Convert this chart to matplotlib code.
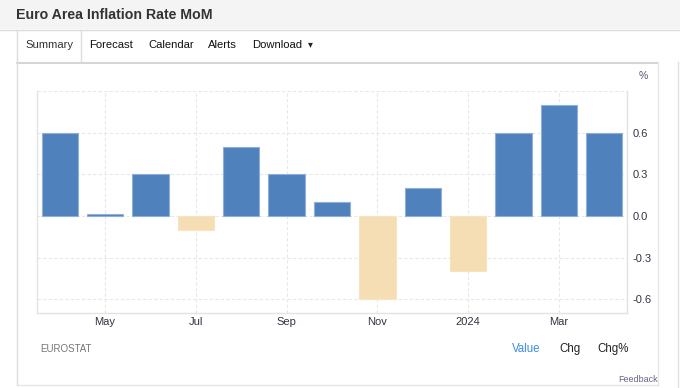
import matplotlib
matplotlib.use("Agg")
import matplotlib.pyplot as plt
from matplotlib.patches import Rectangle
from matplotlib.lines import Line2D

plt.rcParams['font.family'] = ['Liberation Sans', 'DejaVu Sans']

months = ["Apr", "May", "Jun", "Jul", "Aug", "Sep", "Oct", "Nov", "Dec",
          "Jan", "Feb", "Mar", "Apr"]
values = [0.6, 0.015, 0.3, -0.1, 0.5, 0.3, 0.1, -0.6, 0.2, -0.4, 0.6, 0.8, 0.6]
xtick_pos = [1, 3, 5, 7, 9, 11]
xtick_labels = ["May", "Jul", "Sep", "Nov", "2024", "Mar"]
yticks = [-0.6, -0.3, 0.0, 0.3, 0.6]
ytick_labels = ["-0.6", "-0.3", "0.0", "0.3", "0.6"]

W, H = 680, 388
fig = plt.figure(figsize=(W / 100, H / 100), dpi=100)
fig.patch.set_facecolor("white")

def px(x, y):
    return x / W, 1 - y / H

# header band
fig.patches.append(Rectangle((0, 1 - 29 / H), 1, 29 / H, transform=fig.transFigure,
                             facecolor="#f4f4f4", edgecolor="none", zorder=0))
def hline(y, x0, x1, c="#dddddd", lw=1.0):
    fig.lines.append(Line2D([x0 / W, x1 / W], [1 - y / H, 1 - y / H], transform=fig.transFigure,
                            color=c, lw=lw, zorder=1))
def vline(x, y0, y1, c="#dddddd", lw=1.0):
    fig.lines.append(Line2D([x / W, x / W], [1 - y0 / H, 1 - y1 / H], transform=fig.transFigure,
                            color=c, lw=lw, zorder=1))

hline(29.5, 0, 680, "#dcdcdc")
hline(62.5, 17, 658, "#d6d6d6", 1.5)
vline(17, 29.5, 385)
vline(81, 29.5, 62)
vline(658, 62, 385, "#e6e6e6")
hline(385, 17, 658, "#e6e6e6")
vline(678, 62, 388, "#e0e0e0")

fig.text(*px(16, 15), "Euro Area Inflation Rate MoM", fontsize=10.2, fontweight="bold",
         color="#333333", va="center", ha="left")
nav = [("Summary", 25, "#333333"), ("Forecast", 89, "#111111"), ("Calendar", 148, "#111111"),
       ("Alerts", 208, "#111111"), ("Download", 252, "#111111")]
for t, x, c in nav:
    fig.text(*px(x, 45), t, fontsize=8.1, color=c, va="center", ha="left")
fig.text(*px(308, 44), "\u25BE", fontsize=7, color="#222222", va="center", ha="left",
         family="DejaVu Sans")

ax = fig.add_axes([37 / W, 1 - 313 / H, (627 - 37) / W, (313 - 91) / H])
ax.set_facecolor("white")
colors = ["#4f81bd" if v >= 0 else "#f5deb3" for v in values]
edges = ["#8fb0d9" if v >= 0 else "#f7e3c0" for v in values]
ax.bar(range(len(values)), values, width=0.8, color=colors, edgecolor=edges, linewidth=0.8,
       zorder=3)
ax.set_xlim(-0.5, len(values) - 0.5)
ax.set_ylim(-0.7, 0.9)
ax.set_xticks(xtick_pos)
ax.set_xticklabels(xtick_labels)
ax.set_yticks(yticks + [0.9])
ax.set_yticklabels(ytick_labels + [""])
ax.yaxis.tick_right()
ax.tick_params(axis="both", length=0, labelsize=8, labelcolor="#333344")
ax.tick_params(axis="y", pad=4)
ax.tick_params(axis="x", pad=3)
ax.grid(True, color="#e8e8e8", linestyle=(0, (3, 2)), linewidth=0.8, zorder=0)
for s in ["left", "bottom", "right"]:
    ax.spines[s].set_color("#e3e3e3")
    ax.spines[s].set_linewidth(1.0)
ax.spines["top"].set_visible(False)

fig.text(*px(643, 76), "%", fontsize=7.5, color="#555577", va="center", ha="center")
fig.text(*px(40, 349), "EUROSTAT", fontsize=7, color="#777777", va="center", ha="left")
fig.text(*px(512, 349), "Value", fontsize=8.3, color="#3b8de6", va="center", ha="left")
fig.text(*px(559, 349), "Chg", fontsize=8.3, color="#222222", va="center", ha="left")
fig.text(*px(597, 349), "Chg%", fontsize=8.3, color="#222222", va="center", ha="left")
fig.text(*px(658, 379), "Feedback", fontsize=6.5, color="#666688", va="center", ha="right")

fig.savefig("out.png", dpi=100, facecolor="white")
